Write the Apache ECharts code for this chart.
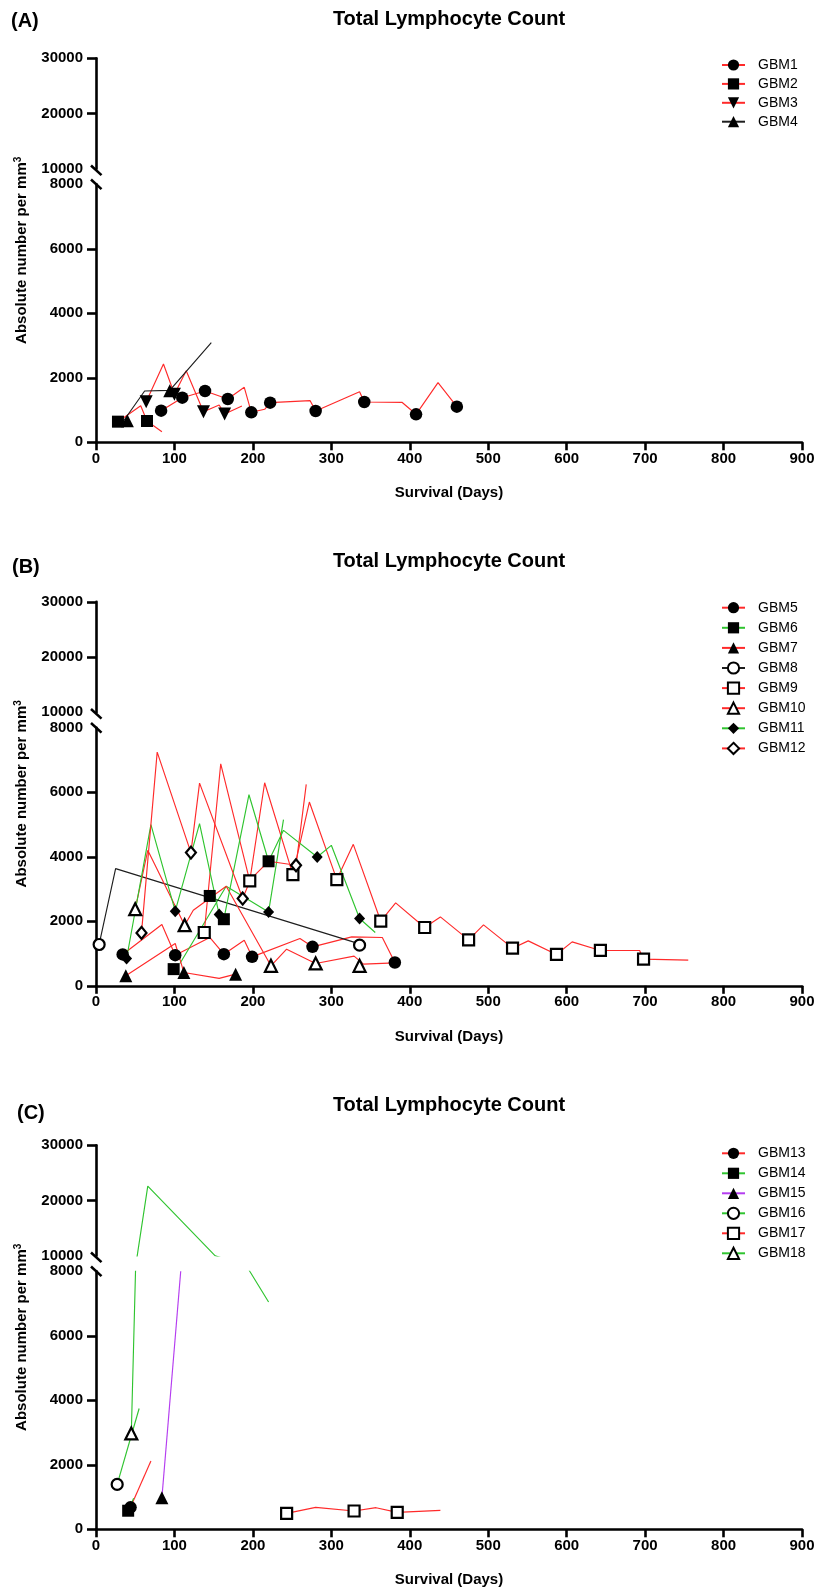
<!DOCTYPE html>
<html>
<head>
<meta charset="utf-8">
<script src="https://cdn.jsdelivr.net/npm/echarts@6/dist/echarts.min.js"></script>
<style>
  html, body { margin: 0; padding: 0; background: #fff; }
  #chart { width: 830px; height: 1587px; }
</style>
</head>
<body>
<div id="chart"></div>
<script>
// ---- axis ticks and texts ----
const xTicks = [0, 100, 200, 300, 400, 500, 600, 700, 800, 900];
const lowerTicks = [0, 2000, 4000, 6000, 8000];
const upperTicks = [10000, 20000, 30000];
const panelLetters = ['(A)', '(B)', '(C)'];
const panelTitle = 'Total Lymphocyte Count';
const xTitle = 'Survival (Days)';
const yTitle = 'Absolute number per mm';

// ---- panel A: [survival day, lymphocytes per mm3] ----
const gbm1Line = [[83, 980], [110, 1383], [139, 1590], [168, 1342], [189, 1705], [198, 930], [215, 1023], [222, 1228], [273, 1290], [280, 970], [336, 1569], [342, 1249], [390, 1240], [408, 868], [436, 1848], [460, 1104]];
const gbm1Pts = [[83, 980], [110, 1383], [139, 1590], [168, 1342], [198, 930], [222, 1228], [280, 970], [342, 1249], [408, 868], [460, 1104]];
const gbm2Line = [[28, 640], [57, 1135], [65, 660], [84, 330]];
const gbm2Pts = [[28, 640], [65, 660]];
const gbm3Line = [[64, 1260], [86, 2427], [100, 1488], [115, 2220], [137, 950], [157, 1156], [164, 877], [186, 1125]];
const gbm3Pts = [[64, 1260], [100, 1488], [137, 950], [164, 877]];
const gbm4Line = [[33, 590], [62, 1590], [94, 1612], [147, 3088]];
const gbm4Pts = [[40, 670], [94, 1600]];

// ---- panel B ----
const gbm5Line = [[34, 972], [84, 1901], [101, 950], [145, 1500], [163, 981], [189, 1415], [199, 898], [260, 1467], [276, 1208], [326, 1517], [365, 1498], [381, 723]];
const gbm5Pts = [[34, 972], [101, 950], [163, 981], [199, 898], [276, 1208], [381, 723]];
const gbm6Line = [[107, 693], [166, 3087], [220, 2291], [239, 5150]];
const gbm6Pts = [[99, 517], [145, 2786], [163, 2065], [220, 3861]];
const gbm7Line = [[38, 310], [101, 1312], [112, 414], [157, 229], [178, 362]];
const gbm7Pts = [[38, 310], [112, 414], [178, 362]];
const gbm8Line = [[4, 1281], [25, 3634], [336, 1300]];
const gbm8Pts = [[4, 1281], [336, 1260]];
const gbm9Line = [[138, 1653], [159, 6884], [196, 3251], [215, 6296], [251, 3449], [272, 5698], [307, 3294], [328, 4387], [363, 2003], [382, 2570], [419, 1808], [439, 2136], [475, 1424], [494, 1889], [531, 1167], [551, 1393], [587, 972], [607, 1362], [643, 1096], [693, 1096], [698, 827], [755, 796]];
const gbm9Pts = [[138, 1653], [196, 3251], [251, 3449], [307, 3294], [363, 2003], [419, 1808], [475, 1424], [531, 1167], [587, 972], [643, 1096], [698, 827]];
const gbm10Line = [[50, 2375], [66, 4200], [113, 1879], [124, 2343], [166, 3087], [223, 620], [243, 1136], [280, 693], [329, 919], [341, 671], [381, 712]];
const gbm10Pts = [[50, 2375], [113, 1879], [223, 620], [280, 693], [336, 620]];
const gbm11Line = [[39, 847], [70, 4996], [101, 2313], [132, 5027], [157, 2210], [164, 2189], [195, 5925], [220, 3861], [239, 4820], [282, 3995], [300, 4356], [336, 2086], [356, 1653]];
const gbm11Pts = [[39, 847], [101, 2313], [157, 2210], [220, 2291], [282, 3995], [336, 2086]];
const gbm12Line = [[58, 1641], [78, 7245], [121, 4130], [132, 6286], [187, 2706], [197, 3300], [220, 3861], [255, 3737], [268, 6245]];
const gbm12Pts = [[58, 1641], [121, 4130], [187, 2706], [255, 3737]];

// ---- panel C ----
const gbm13Line = [[44, 681], [70, 2115]];
const gbm13Pts = [[44, 681]];
const gbm14Line = [[41, 576], [48, 960]];
const gbm14Pts = [[41, 576]];
const gbm15Line = [[84, 979], [108, 8000]];
const gbm15Pts = [[84, 979]];
const gbm16Line = [[27, 1393], [55, 3746]];
const gbm16Pts = [[27, 1393]];
const gbm17Line = [[243, 495], [280, 681], [329, 567], [357, 670], [384, 526], [439, 588]];
const gbm17Pts = [[243, 495], [329, 567], [384, 526]];
const gbm18Line = [[45, 2972], [66, 22610], [152, 10000], [196, 8000], [220, 7047]];
const gbm18Pts = [[45, 2972]];

const patientData = {
  GBM1: [gbm1Line, gbm1Pts], GBM2: [gbm2Line, gbm2Pts], GBM3: [gbm3Line, gbm3Pts], GBM4: [gbm4Line, gbm4Pts],
  GBM5: [gbm5Line, gbm5Pts], GBM6: [gbm6Line, gbm6Pts], GBM7: [gbm7Line, gbm7Pts], GBM8: [gbm8Line, gbm8Pts],
  GBM9: [gbm9Line, gbm9Pts], GBM10: [gbm10Line, gbm10Pts], GBM11: [gbm11Line, gbm11Pts], GBM12: [gbm12Line, gbm12Pts],
  GBM13: [gbm13Line, gbm13Pts], GBM14: [gbm14Line, gbm14Pts], GBM15: [gbm15Line, gbm15Pts], GBM16: [gbm16Line, gbm16Pts],
  GBM17: [gbm17Line, gbm17Pts], GBM18: [gbm18Line, gbm18Pts]
};

const panelNames = [
  ['GBM1', 'GBM2', 'GBM3', 'GBM4'],
  ['GBM5', 'GBM6', 'GBM7', 'GBM8', 'GBM9', 'GBM10', 'GBM11', 'GBM12'],
  ['GBM13', 'GBM14', 'GBM15', 'GBM16', 'GBM17', 'GBM18']
];

// ---- styling ----
const RED = '#ff2a2a', GREEN = '#2fc42f', PURPLE = '#b43cf0', DARK = '#1e1e1e';
const FONT = '"Liberation Sans", Arial, Helvetica, sans-serif';
const patientStyle = {
  GBM1: { color: RED, symbol: 'circle' },
  GBM2: { color: RED, symbol: 'rect' },
  GBM3: { color: RED, symbol: 'triangle', rotate: 180 },
  GBM4: { color: DARK, symbol: 'triangle' },
  GBM5: { color: RED, symbol: 'circle' },
  GBM6: { color: GREEN, symbol: 'rect' },
  GBM7: { color: RED, symbol: 'triangle' },
  GBM8: { color: DARK, symbol: 'circle', hollow: true },
  GBM9: { color: RED, symbol: 'rect', hollow: true },
  GBM10: { color: RED, symbol: 'triangle', hollow: true },
  GBM11: { color: GREEN, symbol: 'diamond' },
  GBM12: { color: RED, symbol: 'diamond', hollow: true },
  GBM13: { color: RED, symbol: 'circle' },
  GBM14: { color: GREEN, symbol: 'rect' },
  GBM15: { color: PURPLE, symbol: 'triangle' },
  GBM16: { color: GREEN, symbol: 'circle', hollow: true },
  GBM17: { color: RED, symbol: 'rect', hollow: true },
  GBM18: { color: GREEN, symbol: 'triangle', hollow: true }
};
const filledSize = { circle: 12.5, rect: 12, triangle: 13, diamond: [11, 12] };
const hollowSize = { circle: 11, rect: 11, triangle: 12, diamond: [10, 12] };

// ---- layout ----
const GRID_LEFT = 96, GRID_W = 706, PANEL_STEP = 543.5;
const UPPER_TOP = 58.3, UPPER_H = 110.5, LOWER_TOP = 184.3, LOWER_H = 258;
const titleY = [19, 561, 1105];
const letterPos = [[11, 21], [12, 567], [17, 1113]];
const legendTop = [58, 600.7, 1146.3];
const legendGap = [4.9, 6.1, 6];

const axisLineStyle = { color: '#000', width: 2.6 };
const tickLabel = { color: '#000', fontSize: 15, fontWeight: 'bold', fontFamily: FONT, formatter: v => String(v) };

const grids = [], xAxes = [], yAxes = [], series = [], legends = [], graphics = [];

panelNames.forEach((names, i) => {
  const off = i * PANEL_STEP;
  const gu = 2 * i, gl = 2 * i + 1;
  const upTop = UPPER_TOP + off, loTop = LOWER_TOP + off;
  grids.push({ left: GRID_LEFT, width: GRID_W, top: upTop, height: UPPER_H });
  grids.push({ left: GRID_LEFT, width: GRID_W, top: loTop, height: LOWER_H });

  xAxes.push({ gridIndex: gu, type: 'value', min: xTicks[0], max: xTicks[xTicks.length - 1], show: false });
  xAxes.push({
    gridIndex: gl, type: 'value', min: xTicks[0], max: xTicks[xTicks.length - 1], interval: xTicks[1] - xTicks[0],
    axisLine: { show: true, onZero: false, lineStyle: axisLineStyle },
    axisTick: { show: true, length: 8, lineStyle: axisLineStyle },
    axisLabel: Object.assign({ margin: 9 }, tickLabel),
    splitLine: { show: false }
  });

  yAxes.push({
    gridIndex: gu, type: 'value', min: upperTicks[0], max: upperTicks[upperTicks.length - 1],
    interval: upperTicks[1] - upperTicks[0],
    axisLine: { show: true, onZero: false, lineStyle: axisLineStyle },
    axisTick: { show: true, length: 9, lineStyle: axisLineStyle, customValues: upperTicks.slice(1) },
    axisLabel: Object.assign({ margin: 13 }, tickLabel),
    splitLine: { show: false }
  });
  yAxes.push({
    gridIndex: gl, type: 'value', min: lowerTicks[0], max: lowerTicks[lowerTicks.length - 1],
    interval: lowerTicks[1] - lowerTicks[0],
    axisLine: { show: true, onZero: false, lineStyle: axisLineStyle },
    axisTick: { show: true, length: 9, lineStyle: axisLineStyle, customValues: lowerTicks.slice(0, -1) },
    axisLabel: Object.assign({ margin: 13 }, tickLabel),
    splitLine: { show: false }
  });

  const lowerMax = lowerTicks[lowerTicks.length - 1];
  names.forEach(name => {
    const st = patientStyle[name];
    const [lineData, ptsData] = patientData[name];
    const sym = {
      symbol: st.symbol,
      symbolSize: (st.hollow ? hollowSize : filledSize)[st.symbol],
      symbolRotate: st.rotate || 0,
      itemStyle: st.hollow
        ? { color: '#fff', borderColor: '#000', borderWidth: 2.2, opacity: 1 }
        : { color: '#000', borderWidth: 0, opacity: 1 }
    };
    const lineSeries = Object.assign({
      type: 'line', name, data: lineData, showSymbol: false, clip: true,
      lineStyle: { color: st.color, width: 1.15 }, z: 2, silent: true, animation: false
    }, sym);
    series.push(Object.assign({ xAxisIndex: gl, yAxisIndex: gl }, lineSeries));
    // trace continues on the upper (broken) scale when it climbs past 8000
    if (Math.max.apply(null, lineData.map(d => d[1])) > lowerMax) {
      series.push(Object.assign({}, lineSeries, { xAxisIndex: gu, yAxisIndex: gu }));
    }
    series.push(Object.assign({
      type: 'scatter', name, data: ptsData, xAxisIndex: gl, yAxisIndex: gl,
      z: 3, silent: true, animation: false
    }, sym));
  });

  legends.push({
    data: names, orient: 'vertical', left: 721, top: legendTop[i], padding: 0,
    itemWidth: 23, itemHeight: 14, itemGap: legendGap[i], selectedMode: false,
    textStyle: { fontSize: 14, color: '#000', fontFamily: FONT, padding: [0, 0, 0, 8] }
  });

  // axis-break strokes at the ends of the two y-axis pieces
  const yb1 = upTop + UPPER_H + 1.5, yb2 = loTop;
  [yb1, yb2].forEach(y => graphics.push({
    type: 'line', silent: true, z: 10,
    shape: { x1: GRID_LEFT - 5, y1: y - 4.8, x2: GRID_LEFT + 5.5, y2: y + 4.8 },
    style: { stroke: '#000', lineWidth: 2.6 }
  }));

  // panel title and letter
  graphics.push({
    type: 'text', silent: true, x: 449, y: titleY[i],
    style: { text: panelTitle, font: 'bold 20px ' + FONT, fill: '#000',
      align: 'center', verticalAlign: 'middle', textAlign: 'center', textVerticalAlign: 'middle' }
  });
  graphics.push({
    type: 'text', silent: true, x: letterPos[i][0], y: letterPos[i][1],
    style: { text: panelLetters[i], font: 'bold 20px ' + FONT, fill: '#000',
      align: 'left', verticalAlign: 'middle', textAlign: 'left', textVerticalAlign: 'middle' }
  });

  // axis titles
  graphics.push({
    type: 'text', silent: true, x: GRID_LEFT + GRID_W / 2, y: LOWER_TOP + LOWER_H + off + 51,
    style: { text: xTitle, font: 'bold 15px ' + FONT, fill: '#000',
      align: 'center', verticalAlign: 'middle', textAlign: 'center', textVerticalAlign: 'middle' }
  });
  graphics.push({
    type: 'text', silent: true, x: 22, y: (upTop + loTop + LOWER_H) / 2, rotation: Math.PI / 2,
    style: {
      text: '{a|' + yTitle + '}{s|3}',
      align: 'center', verticalAlign: 'middle', textAlign: 'center', textVerticalAlign: 'middle',
      rich: {
        a: { font: 'bold 15px ' + FONT, fill: '#000', lineHeight: 18, verticalAlign: 'middle' },
        s: { font: 'bold 10px ' + FONT, fill: '#000', lineHeight: 11, verticalAlign: 'top' }
      }
    }
  });
});

const chart = echarts.init(document.getElementById('chart'), null, { renderer: 'canvas' });
chart.setOption({
  backgroundColor: '#fff',
  animation: false,
  grid: grids,
  xAxis: xAxes,
  yAxis: yAxes,
  legend: legends,
  series: series,
  graphic: { elements: graphics }
});
</script>
</body>
</html>
